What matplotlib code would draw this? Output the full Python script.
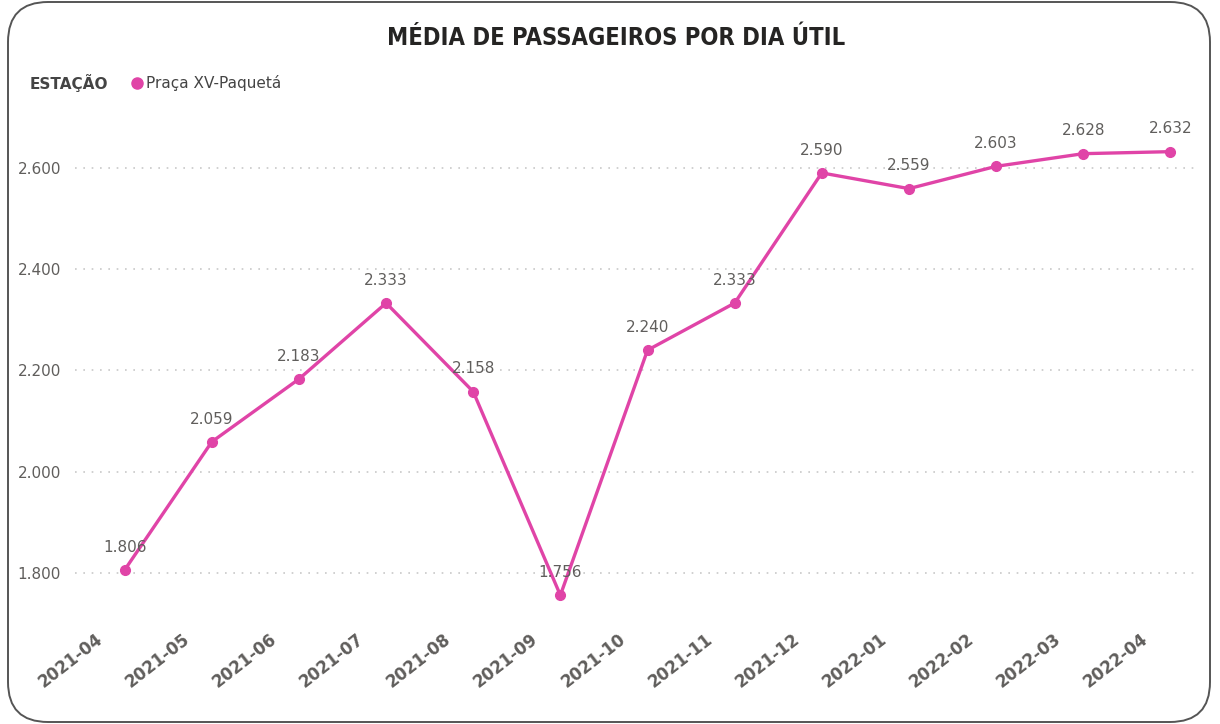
import matplotlib as mpl
import matplotlib.pyplot as plt
import matplotlib.transforms as mtransforms
from matplotlib.patches import FancyBboxPatch
from matplotlib.lines import Line2D


meses = ["2021-04", "2021-05", "2021-06", "2021-07", "2021-08", "2021-09", "2021-10",
	"2021-11", "2021-12", "2022-01", "2022-02", "2022-03", "2022-04"]
passageiros = [1806, 2059, 2183, 2333, 2158, 1756, 2240, 2333, 2590, 2559, 2603, 2628, 2632]
y_ticks = [1800, 2000, 2200, 2400, 2600]

titulo = "MÉDIA DE PASSAGEIROS POR DIA ÚTIL"
legenda_titulo = "ESTAÇÃO"
serie_nome = "Praça XV-Paquetá"

cor_linha = "#E044A7"
cor_texto = "#605E5C"


def fmt_pt(v):
	# thousands separator with a dot (pt-BR)
	return "{:,}".format(int(v)).replace(",", ".")
#end_def


plt.rcParams["font.family"] = ["DejaVu Sans"]

fig = plt.figure(figsize = (12.2, 7.24), dpi = 100)
fig.patch.set_facecolor("white")

# rounded card border
borda = FancyBboxPatch((0.48, 0.42), 11.22, 6.4, boxstyle = "round,pad=0.4",
	transform = fig.dpi_scale_trans, facecolor = "none", edgecolor = "#555555", linewidth = 1.4)
fig.patches.append(borda)

ax = fig.add_axes([75 / 1220, 1 - 615 / 724, 1125 / 1220, 515 / 724])

x = list(range(len(meses)))
ax.plot(x, passageiros, color = cor_linha, linewidth = 2.4, marker = "o", markersize = 7, zorder = 3)

for xi, v in zip(x, passageiros):
	ax.annotate(fmt_pt(v), (xi, v), xytext = (0, 11), textcoords = "offset points",
		ha = "center", va = "bottom", fontsize = 11, color = cor_texto, zorder = 4)
#end_for

ax.set_xlim(-0.57, 12.34)
ax.set_ylim(1717, 2734)

ax.tick_params(axis = "both", length = 0, pad = 10)

ax.set_yticks(y_ticks)
ax.set_yticklabels([fmt_pt(t) for t in y_ticks], fontsize = 11, color = cor_texto)
ax.yaxis.grid(True, linestyle = (0, (1, 4)), color = "#C8C8C8", linewidth = 1.2)
ax.set_axisbelow(True)

# month labels drawn by hand so they can sit left of the point, like the original
ax.set_xticks(x)
ax.set_xticklabels([])
base = mtransforms.blended_transform_factory(ax.transData, ax.transAxes)
deslocamento = mtransforms.ScaledTranslation(-0.3, -0.15, fig.dpi_scale_trans)
for xi, m in zip(x, meses):
	ax.text(xi, 0, m, transform = base + deslocamento, rotation = 38, ha = "right", va = "top",
		rotation_mode = "anchor", fontsize = 12, color = cor_texto, fontweight = "bold", clip_on = False)
#end_for

for s in ax.spines.values():
	s.set_visible(False)
#end_for
ax.set_facecolor("none")

fig.text(616 / 1220, 1 - 38 / 724, titulo, ha = "center", va = "center",
	fontsize = 17, fontweight = "bold", color = "#252423", fontstretch = "condensed")

fig.text(30 / 1220, 1 - 83 / 724, legenda_titulo, ha = "left", va = "center",
	fontsize = 11, fontweight = "bold", color = "#444444")
fig.lines.append(Line2D([137 / 1220], [1 - 83 / 724], transform = fig.transFigure,
	marker = "o", markersize = 8, color = cor_linha, linestyle = "none"))
fig.text(146 / 1220, 1 - 83 / 724, serie_nome, ha = "left", va = "center",
	fontsize = 11, color = "#444444")

fig.savefig("out.png", dpi = 100)
